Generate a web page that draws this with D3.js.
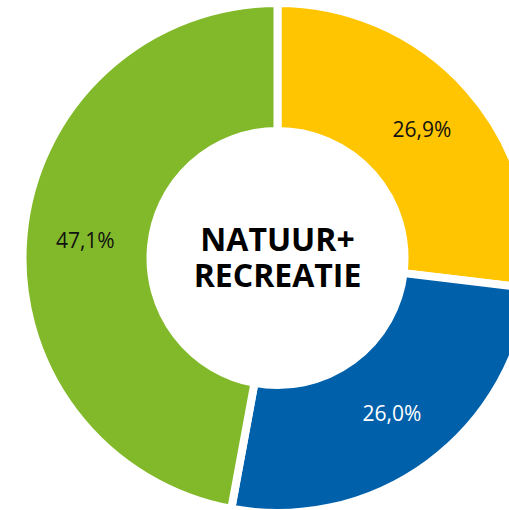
<!DOCTYPE html>
<html>
<head>
<meta charset="utf-8">
<script src="https://d3js.org/d3.v7.min.js"></script>
<style>
  body { margin: 0; background: #fff; }
  svg { display: block; }
</style>
</head>
<body>
<svg width="509" height="510"></svg>
<script>
  // share per category, in percent
  var categories = ["Yellow", "Blue", "Green"];
  var values = [26.9, 26.0, 47.1];
  var labels = ["26,9%", "26,0%", "47,1%"];
  var colors = ["#ffc500", "#0060aa", "#82b92a"];
  var textColors = ["#111", "#fff", "#111"];
  var centerLines = ["NATUUR+", "RECREATIE"];

  var svg = d3.select("svg"),
      cx = 277.5, cy = 258,
      g = svg.append("g").attr("transform", "translate(" + cx + "," + cy + ")");

  var pie = d3.pie().sort(null).value(function (d) { return d; });
  var arcs = pie(values);

  var arc = d3.arc().innerRadius(127).outerRadius(255);
  var labelArc = d3.arc().innerRadius(193).outerRadius(193);

  g.selectAll("path")
    .data(arcs)
    .enter().append("path")
    .attr("d", arc)
    .attr("fill", function (d, i) { return colors[i]; })
    .attr("stroke", "#fff")
    .attr("stroke-width", 8)
    .attr("stroke-linejoin", "miter");

  g.selectAll(".pct")
    .data(arcs)
    .enter().append("text")
    .attr("class", "pct")
    .attr("transform", function (d) { return "translate(" + labelArc.centroid(d) + ")"; })
    .attr("text-anchor", "middle")
    .attr("dy", "0.35em")
    .attr("font-family", "Open Sans")
    .attr("font-size", 21)
    .attr("fill", function (d, i) { return textColors[i]; })
    .text(function (d, i) { return labels[i]; });

  // two-line title in the hole
  g.append("text")
    .attr("class", "center")
    .attr("text-anchor", "middle")
    .attr("font-family", "Open Sans")
    .attr("font-weight", "bold")
    .attr("font-size", 32)
    .attr("fill", "#000")
    .selectAll("tspan")
    .data(centerLines)
    .enter().append("tspan")
    .attr("x", 0)
    .attr("y", function (d, i) { return -7 + i * 36; })
    .text(function (d) { return d; });
</script>
</body>
</html>
